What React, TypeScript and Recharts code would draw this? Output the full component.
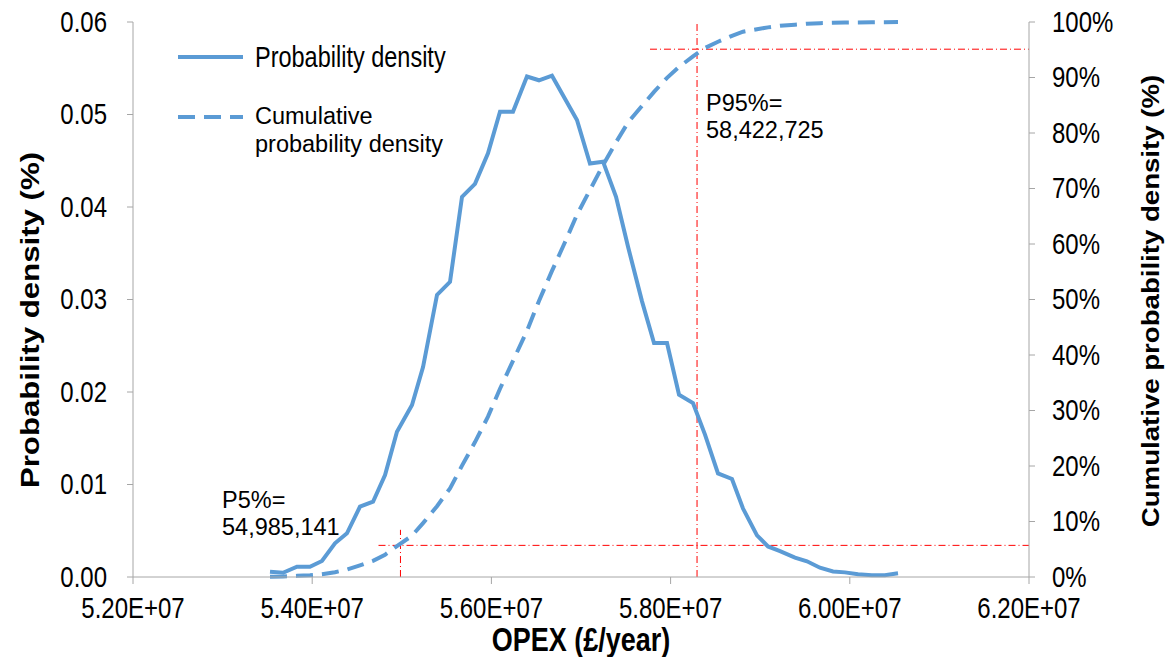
import { ComposedChart, Line, XAxis, YAxis, ReferenceLine } from "recharts"

// OPEX bins (£/year)
const opex = [
  53529000, 53674000, 53830000, 53975000, 54109000, 54254000, 54388000, 54533000, 54679000, 54813000,
  54946000, 55114000, 55237000, 55393000, 55538000, 55672000, 55817000, 55962000, 56096000, 56241000,
  56397000, 56531000, 56676000, 56821000, 56955000, 57100000, 57246000, 57391000, 57525000, 57681000,
  57815000, 57960000, 58094000, 58250000, 58384000, 58529000, 58685000, 58808000, 58964000, 59087000,
  59221000, 59388000, 59522000, 59667000, 59813000, 59946000, 60092000, 60246000, 60391000, 60538000,
]

const density = [
  0.00057, 0.00046, 0.00111, 0.00111, 0.00173, 0.00364, 0.00472, 0.0076, 0.00814, 0.01103,
  0.0157, 0.0186, 0.0227, 0.0305, 0.0319, 0.0411, 0.0425, 0.0458, 0.0503, 0.0503,
  0.0541, 0.0537, 0.0542, 0.0517, 0.0494, 0.0447, 0.0449, 0.0411, 0.0357, 0.0298,
  0.0253, 0.0253, 0.0197, 0.0188, 0.0154, 0.0112, 0.0106, 0.0074, 0.0045, 0.0033,
  0.0028, 0.0021, 0.0017, 0.001, 0.0006, 0.0005, 0.0003, 0.0002, 0.0002, 0.0004,
]

const cumulative = [
  0.0006, 0.001, 0.0021, 0.0033, 0.005, 0.0086, 0.0133, 0.0209, 0.0291, 0.0401,
  0.0558, 0.0744, 0.0971, 0.1276, 0.1595, 0.2006, 0.2431, 0.2889, 0.3392, 0.3895,
  0.4436, 0.4973, 0.5515, 0.6032, 0.6526, 0.6973, 0.7422, 0.7833, 0.819, 0.8488,
  0.8741, 0.8994, 0.9191, 0.9379, 0.9533, 0.9645, 0.9751, 0.9825, 0.987, 0.9903,
  0.9931, 0.9952, 0.9969, 0.9979, 0.9985, 0.999, 0.9993, 0.9995, 0.9997, 1.0,
]

const xTicks = [52000000, 54000000, 56000000, 58000000, 60000000, 62000000]
const leftTicks = [0, 0.01, 0.02, 0.03, 0.04, 0.05, 0.06]
const rightTicks = [0, 0.1, 0.2, 0.3, 0.4, 0.5, 0.6, 0.7, 0.8, 0.9, 1]

// percentile markers
const p5 = 54985141
const p95 = 58295000

const data = opex.map((x, i) => ({ x, pdf: density[i], cdf: cumulative[i] }))

const blue = "#5B9BD5"
const axisGrey = "#A6A6A6"
const red = "#FF0000"
const font = "'Liberation Sans', Arial, sans-serif"
const redDash = "7 3 1 3"

// text stretched vertically a bit (source glyphs are taller than wide)
function SText({
  x,
  y,
  size = 24,
  anchor = "start",
  bold = false,
  stretch = 1.22,
  children,
}: {
  x: number
  y: number
  size?: number
  anchor?: "start" | "middle" | "end"
  bold?: boolean
  stretch?: number
  children: React.ReactNode
}) {
  return (
    <text
      transform={`translate(${x} ${y}) scale(1 ${stretch})`}
      fontSize={size}
      fontFamily={font}
      fontWeight={bold ? "bold" : "normal"}
      textAnchor={anchor}
      dominantBaseline="central"
      fill="#000"
    >
      {children}
    </text>
  )
}

function VText({ x, y, size, s, children }: { x: number; y: number; size: number; s: number; children: React.ReactNode }) {
  return (
    <text
      transform={`translate(${x} ${y}) rotate(-90) scale(${s} 1)`}
      fontSize={size}
      fontFamily={font}
      fontWeight="bold"
      textAnchor="middle"
      dominantBaseline="central"
      fill="#000"
    >
      {children}
    </text>
  )
}

const xTick = (p: any) => (
  <SText x={p.x} y={p.y + 14} anchor="middle">
    {(p.payload.value / 1e7).toFixed(2) + "E+07"}
  </SText>
)
const leftTick = (p: any) => (
  <SText x={p.x} y={p.y} anchor="end">
    {p.payload.value.toFixed(2)}
  </SText>
)
const rightTick = (p: any) => (
  <SText x={p.x} y={p.y} anchor="start">
    {Math.round(p.payload.value * 100) + "%"}
  </SText>
)

export default function App() {
  return (
    <div style={{ position: "absolute", left: 0, top: 0, width: 1175, height: 657, background: "#fff" }}>
      <ComposedChart width={1175} height={657} data={data} margin={{ top: 22, right: 0, bottom: 0, left: 0 }}>
        <XAxis
          dataKey="x"
          type="number"
          domain={[52000000, 62000000]}
          ticks={xTicks}
          tick={xTick}
          tickSize={7}
          tickMargin={10}
          axisLine={{ stroke: axisGrey }}
          tickLine={{ stroke: axisGrey }}
          height={80}
          interval={0}
        />
        <YAxis
          yAxisId="left"
          domain={[0, 0.06]}
          ticks={leftTicks}
          tick={leftTick}
          tickSize={6}
          tickMargin={20}
          axisLine={{ stroke: axisGrey }}
          tickLine={{ stroke: axisGrey }}
          width={133}
          interval={0}
        />
        <YAxis
          yAxisId="right"
          orientation="right"
          domain={[0, 1]}
          ticks={rightTicks}
          tick={rightTick}
          tickSize={6}
          tickMargin={17}
          axisLine={{ stroke: axisGrey }}
          tickLine={{ stroke: axisGrey }}
          width={146}
          interval={0}
        />
        <ReferenceLine
          yAxisId="right"
          segment={[{ x: p5, y: 0 }, { x: p5, y: 0.085 }]}
          stroke={red}
          strokeDasharray={redDash}
        />
        <ReferenceLine
          yAxisId="right"
          segment={[{ x: 54740000, y: 0.057 }, { x: 62000000, y: 0.057 }]}
          stroke={red}
          strokeDasharray={redDash}
        />
        <ReferenceLine
          yAxisId="right"
          segment={[{ x: p95, y: 0 }, { x: p95, y: 1 }]}
          stroke={red}
          strokeDasharray={redDash}
        />
        <ReferenceLine
          yAxisId="right"
          segment={[{ x: 57770000, y: 0.951 }, { x: 62000000, y: 0.951 }]}
          stroke={red}
          strokeDasharray={redDash}
        />
        <Line
          yAxisId="left"
          type="linear"
          dataKey="pdf"
          stroke={blue}
          strokeWidth={4}
          dot={false}
          isAnimationActive={false}
        />
        <Line
          yAxisId="right"
          type="linear"
          dataKey="cdf"
          stroke={blue}
          strokeWidth={4}
          strokeDasharray="17 9"
          dot={false}
          isAnimationActive={false}
        />
      </ComposedChart>
      <svg width={1175} height={657} style={{ position: "absolute", left: 0, top: 0, pointerEvents: "none" }}>
        {/* legend */}
        <line x1={178} y1={57} x2={243} y2={57} stroke={blue} strokeWidth={4} />
        <SText x={255} y={57} size={23.5}>Probability density</SText>
        <line x1={178} y1={117} x2={243} y2={117} stroke={blue} strokeWidth={4} strokeDasharray="17 9" />
        <SText x={255} y={116} size={23.5} stretch={1}>Cumulative</SText>
        <SText x={255} y={144} size={23.5} stretch={1}>probability density</SText>

        {/* percentile notes */}
        <SText x={222} y={500} size={23.5} stretch={1}>P5%=</SText>
        <SText x={222} y={527} size={23.5} stretch={1}>54,985,141</SText>
        <SText x={706} y={103} size={23.5} stretch={1}>P95%=</SText>
        <SText x={706} y={130} size={23.5} stretch={1}>58,422,725</SText>

        {/* axis titles */}
        <SText x={581} y={640} size={27} anchor="middle" bold>
          OPEX (£/year)
        </SText>
        <VText x={30} y={320} size={26} s={1.2}>
          Probability density (%)
        </VText>
        <VText x={1151} y={301} size={24} s={1.15}>
          Cumulative probability density (%)
        </VText>
      </svg>
    </div>
  )
}
